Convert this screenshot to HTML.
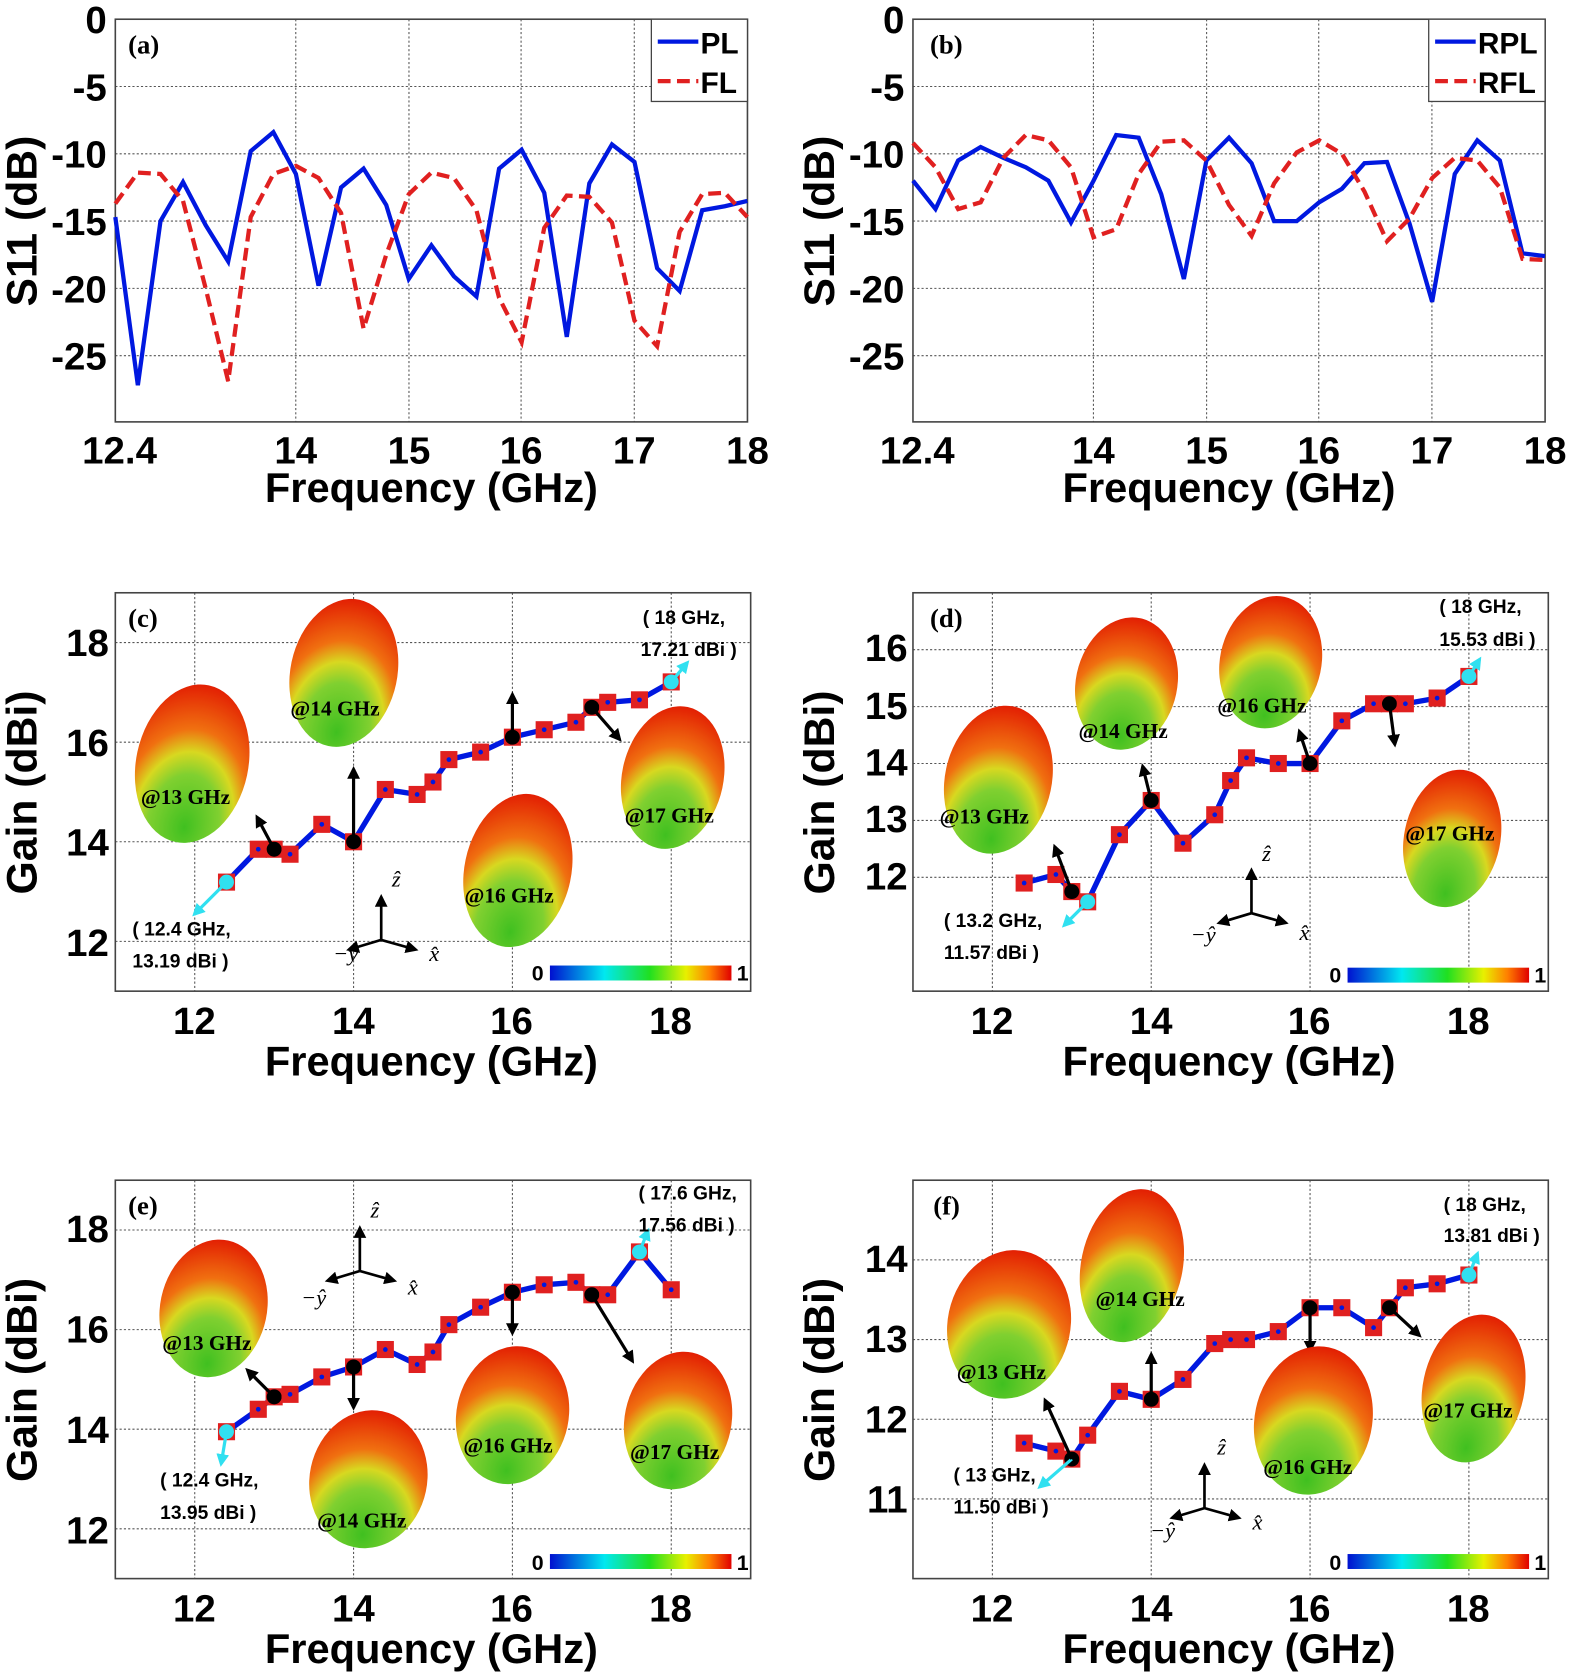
<!DOCTYPE html>
<html><head><meta charset="utf-8"><style>
html,body{margin:0;padding:0;background:#fff;}
svg{display:block;}
.t{font-family:"Liberation Sans",sans-serif;font-weight:bold;fill:#000;}
.s{font-family:"Liberation Serif",serif;font-weight:bold;fill:#000;}
</style></head><body>
<svg id="c" width="1575" height="1679" viewBox="0 0 1475 1572" preserveAspectRatio="none" xmlns="http://www.w3.org/2000/svg">
<defs>
<linearGradient id="cb" x1="0" x2="1" y1="0" y2="0">
<stop offset="0" stop-color="#0010d0"/><stop offset="0.3" stop-color="#00e8f0"/><stop offset="0.55" stop-color="#20e020"/><stop offset="0.75" stop-color="#e8f000"/><stop offset="0.88" stop-color="#ff8000"/><stop offset="1" stop-color="#e00000"/>
</linearGradient>
<radialGradient id="bl" cx="0.5" cy="0.85" r="0.9" fx="0.55" fy="0.9">
<stop offset="0" stop-color="#40c020"/><stop offset="0.35" stop-color="#80d030"/><stop offset="0.5" stop-color="#d8d820"/><stop offset="0.65" stop-color="#f07010"/><stop offset="1" stop-color="#e01000"/>
</radialGradient>
<marker id="ab" markerWidth="12" markerHeight="12" refX="9" refY="6" orient="auto" markerUnits="userSpaceOnUse"><path d="M0,0 L12,6 L0,12 z" fill="#000"/></marker>
<marker id="ac" markerWidth="12" markerHeight="12" refX="9" refY="6" orient="auto" markerUnits="userSpaceOnUse"><path d="M0,0 L12,6 L0,12 z" fill="#30e0f0"/></marker>
</defs>
<g id="g"></g>
<g class="t" font-size="36">
<text x="100" y="31" text-anchor="end">0</text><text x="100" y="94" text-anchor="end">-5</text><text x="100" y="157" text-anchor="end">-10</text><text x="100" y="220" text-anchor="end">-15</text><text x="100" y="283" text-anchor="end">-20</text><text x="100" y="346" text-anchor="end">-25</text>
<text x="112" y="434" text-anchor="middle">12.4</text><text x="277" y="434" text-anchor="middle">14</text><text x="383" y="434" text-anchor="middle">15</text><text x="488" y="434" text-anchor="middle">16</text><text x="594" y="434" text-anchor="middle">17</text><text x="700" y="434" text-anchor="middle">18</text>
<text x="404" y="470" text-anchor="middle" font-size="39">Frequency (GHz)</text>
<text transform="translate(34,207) rotate(-90)" text-anchor="middle" font-size="40">S11 (dB)</text>
<text x="656" y="50" font-size="28">PL</text><text x="656" y="87" font-size="28">FL</text>
</g>
<text class="s" x="120" y="50" font-size="25">(a)</text>
<g class="t" font-size="36">
<text x="847" y="31" text-anchor="end">0</text><text x="847" y="94" text-anchor="end">-5</text><text x="847" y="157" text-anchor="end">-10</text><text x="847" y="220" text-anchor="end">-15</text><text x="847" y="283" text-anchor="end">-20</text><text x="847" y="346" text-anchor="end">-25</text>
<text x="859" y="434" text-anchor="middle">12.4</text><text x="1024" y="434" text-anchor="middle">14</text><text x="1130" y="434" text-anchor="middle">15</text><text x="1235" y="434" text-anchor="middle">16</text><text x="1341" y="434" text-anchor="middle">17</text><text x="1447" y="434" text-anchor="middle">18</text>
<text x="1151" y="470" text-anchor="middle" font-size="39">Frequency (GHz)</text>
<text transform="translate(781,207) rotate(-90)" text-anchor="middle" font-size="40">S11 (dB)</text>
<text x="1384" y="50" font-size="28">RPL</text><text x="1384" y="87" font-size="28">RFL</text>
</g>
<text class="s" x="871" y="50" font-size="25">(b)</text>
<g class="t" font-size="36">
<text x="102" y="614" text-anchor="end">18</text><text x="102" y="708" text-anchor="end">16</text><text x="102" y="801" text-anchor="end">14</text><text x="102" y="895" text-anchor="end">12</text>
<text x="182" y="968" text-anchor="middle">12</text><text x="331" y="968" text-anchor="middle">14</text><text x="479" y="968" text-anchor="middle">16</text><text x="628" y="968" text-anchor="middle">18</text>
<text x="404" y="1007" text-anchor="middle" font-size="39">Frequency (GHz)</text>
<text transform="translate(34,742) rotate(-90)" text-anchor="middle" font-size="40">Gain (dBi)</text>
<text x="850" y="619" text-anchor="end">16</text><text x="850" y="673" text-anchor="end">15</text><text x="850" y="726" text-anchor="end">14</text><text x="850" y="779" text-anchor="end">13</text><text x="850" y="833" text-anchor="end">12</text>
<text x="929" y="968" text-anchor="middle">12</text><text x="1078" y="968" text-anchor="middle">14</text><text x="1226" y="968" text-anchor="middle">16</text><text x="1375" y="968" text-anchor="middle">18</text>
<text x="1151" y="1007" text-anchor="middle" font-size="39">Frequency (GHz)</text>
<text transform="translate(781,742) rotate(-90)" text-anchor="middle" font-size="40">Gain (dBi)</text>
<text x="102" y="1163" text-anchor="end">18</text><text x="102" y="1257" text-anchor="end">16</text><text x="102" y="1351" text-anchor="end">14</text><text x="102" y="1445" text-anchor="end">12</text>
<text x="182" y="1518" text-anchor="middle">12</text><text x="331" y="1518" text-anchor="middle">14</text><text x="479" y="1518" text-anchor="middle">16</text><text x="628" y="1518" text-anchor="middle">18</text>
<text x="404" y="1557" text-anchor="middle" font-size="39">Frequency (GHz)</text>
<text transform="translate(34,1292) rotate(-90)" text-anchor="middle" font-size="40">Gain (dBi)</text>
<text x="850" y="1191" text-anchor="end">14</text><text x="850" y="1266" text-anchor="end">13</text><text x="850" y="1341" text-anchor="end">12</text><text x="850" y="1416" text-anchor="end">11</text>
<text x="929" y="1518" text-anchor="middle">12</text><text x="1078" y="1518" text-anchor="middle">14</text><text x="1226" y="1518" text-anchor="middle">16</text><text x="1375" y="1518" text-anchor="middle">18</text>
<text x="1151" y="1557" text-anchor="middle" font-size="39">Frequency (GHz)</text>
<text transform="translate(781,1292) rotate(-90)" text-anchor="middle" font-size="40">Gain (dBi)</text>
</g>
<g class="s" font-size="25"><text x="120" y="587">(c)</text><text x="871" y="587">(d)</text><text x="120" y="1137">(e)</text><text x="874" y="1137">(f)</text></g>
<g id="blobs"></g>
<g class="s" font-size="20">
<text x="132" y="753">@13 GHz</text><text x="272" y="670">@14 GHz</text><text x="435" y="845">@16 GHz</text><text x="585" y="770">@17 GHz</text>
<text x="880" y="771">@13 GHz</text><text x="1010" y="691">@14 GHz</text><text x="1140" y="667">@16 GHz</text><text x="1316" y="787">@17 GHz</text>
<text x="152" y="1264">@13 GHz</text><text x="297" y="1430">@14 GHz</text><text x="434" y="1360">@16 GHz</text><text x="590" y="1366">@17 GHz</text>
<text x="896" y="1291">@13 GHz</text><text x="1026" y="1223">@14 GHz</text><text x="1183" y="1380">@16 GHz</text><text x="1333" y="1327">@17 GHz</text>
</g>
<g class="t" font-size="18">
<text x="124" y="876">( 12.4 GHz,</text><text x="124" y="906">13.19 dBi )</text>
<text x="602" y="584">( 18 GHz,</text><text x="600" y="614">17.21 dBi )</text>
<text x="884" y="868">( 13.2 GHz,</text><text x="884" y="898">11.57 dBi )</text>
<text x="1348" y="574">( 18 GHz,</text><text x="1348" y="605">15.53 dBi )</text>
<text x="150" y="1392">( 12.4 GHz,</text><text x="150" y="1422">13.95 dBi )</text>
<text x="598" y="1123">( 17.6 GHz,</text><text x="598" y="1153">17.56 dBi )</text>
<text x="893" y="1387">( 13 GHz,</text><text x="893" y="1417">11.50 dBi )</text>
<text x="1352" y="1134">( 18 GHz,</text><text x="1352" y="1163">13.81 dBi )</text>
</g>
<g class="t" font-size="20">
<text x="498" y="918">0</text><text x="690" y="918">1</text><text x="1245" y="920">0</text><text x="1437" y="920">1</text>
<text x="498" y="1470">0</text><text x="690" y="1470">1</text><text x="1245" y="1470">0</text><text x="1437" y="1470">1</text>
</g>
<g font-family="Liberation Serif,serif" font-style="italic" font-size="21">
<text x="367" y="830">ẑ</text><text x="312" y="900">−ŷ</text><text x="402" y="900">x̂</text>
<text x="1182" y="806">ẑ</text><text x="1115" y="882">−ŷ</text><text x="1217" y="880">x̂</text>
<text x="347" y="1140">ẑ</text><text x="282" y="1222">−ŷ</text><text x="382" y="1212">x̂</text>
<text x="1140" y="1362">ẑ</text><text x="1077" y="1440">−ŷ</text><text x="1173" y="1432">x̂</text>
</g>
</svg>
<script>
var NS="http://www.w3.org/2000/svg",G=document.getElementById("g"),B=document.getElementById("blobs");
function el(p,t,a){var e=document.createElementNS(NS,t);for(var k in a)e.setAttribute(k,a[k]);p.appendChild(e);return e;}
function box(x0,y0,x1,y1,gx,gy){
 gx.forEach(function(x){el(G,"line",{x1:x,x2:x,y1:y0,y2:y1,stroke:"#555","stroke-width":1,"stroke-dasharray":"2,2"});});
 gy.forEach(function(y){el(G,"line",{x1:x0,x2:x1,y1:y,y2:y,stroke:"#555","stroke-width":1,"stroke-dasharray":"2,2"});});
 el(G,"rect",{x:x0,y:y0,width:x1-x0,height:y1-y0,fill:"none",stroke:"#444","stroke-width":1.5});
}
function s11(x0,d,col,dash){var p=[];for(var i=0;i<d.length;i++){p.push((x0+i*0.2*105.7).toFixed(1)+","+(18-d[i]*12.6).toFixed(1));}
 var a={points:p.join(" "),fill:"none",stroke:col,"stroke-width":4};if(dash)a["stroke-dasharray"]="12,6";el(G,"polyline",a);}
box(108,18,700,395,[277,383,488,594],[81,144,207,270,333]);
box(855,18,1447,395,[1024,1130,1235,1341],[81,144,207,270,333]);
s11(108,[-14.7,-27.2,-15,-12.1,-15.3,-18,-9.8,-8.4,-11.5,-19.8,-12.5,-11.1,-13.8,-19.3,-16.8,-19.1,-20.6,-11.1,-9.7,-12.9,-23.6,-12.2,-9.3,-10.6,-18.5,-20.2,-14.2,-13.9,-13.5],"#0018e0");
s11(108,[-13.7,-11.4,-11.5,-13.5,-20,-26.9,-14.7,-11.5,-10.9,-11.8,-14.4,-23,-17.5,-13,-11.4,-11.8,-14.2,-20.7,-24,-15.5,-13.1,-13.2,-15.1,-22.4,-24.3,-15.8,-13,-12.9,-14.7],"#e02020",1);
s11(855,[-12,-14.1,-10.5,-9.5,-10.3,-11,-12,-15.1,-12,-8.6,-8.8,-13,-19.3,-10.5,-8.8,-10.7,-15,-15,-13.6,-12.6,-10.7,-10.6,-15.2,-21,-11.5,-9,-10.5,-17.4,-17.6],"#0018e0");
s11(855,[-9.2,-11,-14.1,-13.6,-10.3,-8.6,-9,-11,-16.2,-15.6,-11.5,-9.1,-9,-10.5,-13.8,-16.1,-12.2,-9.9,-9,-10,-12.8,-16.5,-14.8,-11.8,-10.3,-10.5,-12.5,-17.8,-17.9],"#e02020",1);
[[610,700],[1338,1447]].forEach(function(l){el(G,"rect",{x:l[0],y:18,width:l[1]-l[0],height:77,fill:"#fff",stroke:"#444","stroke-width":1.2});
 el(G,"line",{x1:l[0]+6,x2:l[0]+44,y1:39,y2:39,stroke:"#0018e0","stroke-width":4});
 el(G,"line",{x1:l[0]+6,x2:l[0]+44,y1:76,y2:76,stroke:"#e02020","stroke-width":4,"stroke-dasharray":"12,6"});});
function gp(x0,y0,x1,y1,ymin,ymax,yt,data,blobs,arrows,cbY,tri){
 var fx=function(f){return x0+(f-11)*(x1-x0)/8;},fy=function(v){return y1-(v-ymin)*(y1-y0)/(ymax-ymin);};
 box(x0,y0,x1,y1,[12,14,16,18].map(fx),yt.map(fy));
 blobs.forEach(function(b){el(B,"ellipse",{cx:b[0],cy:b[1],rx:b[2]/2,ry:b[3]/2,fill:"url(#bl)",transform:"rotate(12 "+b[0]+" "+b[1]+")"});});
 var p=data.map(function(d){return fx(d[0]).toFixed(1)+","+fy(d[1]).toFixed(1);}).join(" ");
 el(G,"polyline",{points:p,fill:"none",stroke:"#0018e0","stroke-width":5});
 data.forEach(function(d){var x=fx(d[0]),y=fy(d[1]);
  el(G,"rect",{x:x-8,y:y-8,width:16,height:16,fill:"#e02020"});
  if(d[2]==="k")el(G,"circle",{cx:x,cy:y,r:7,fill:"#000"});
  else if(d[2]==="c")el(G,"circle",{cx:x,cy:y,r:7,fill:"#30e0f0"});
  else el(G,"circle",{cx:x,cy:y,r:2.2,fill:"#0018e0"});});
 arrows.forEach(function(a){var x=fx(a[0]),y=fy(a[1]);el(G,"line",{x1:x,y1:y,x2:x+a[2],y2:y+a[3],stroke:a[4]?"#30e0f0":"#000","stroke-width":3,"marker-end":a[4]?"url(#ac)":"url(#ab)"});});
 el(G,"rect",{x:x0+407,y:cbY,width:170,height:14,fill:"url(#cb)"});
 var t=tri;el(G,"line",{x1:t[0],y1:t[1],x2:t[0],y2:t[1]-40,stroke:"#000","stroke-width":2.5,"marker-end":"url(#ab)"});
 el(G,"line",{x1:t[0],y1:t[1],x2:t[0]-30,y2:t[1]+9,stroke:"#000","stroke-width":2.5,"marker-end":"url(#ab)"});
 el(G,"line",{x1:t[0],y1:t[1],x2:t[0]+32,y2:t[1]+9,stroke:"#000","stroke-width":2.5,"marker-end":"url(#ab)"});
}
gp(108,555,703,928,11,19,[12,14,16,18],
 [[12.4,13.19,"c"],[12.8,13.85],[13,13.85,"k"],[13.2,13.75],[13.6,14.35],[14,14,"k"],[14.4,15.05],[14.8,14.95],[15,15.2],[15.2,15.65],[15.6,15.8],[16,16.1,"k"],[16.4,16.25],[16.8,16.4],[17,16.7,"k"],[17.2,16.8],[17.6,16.85],[18,17.21,"c"]],
 [[180,715,105,150],[322,630,100,140],[485,815,100,145],[630,728,95,135]],
 [[12.4,13.19,-30,30,1],[13,13.85,-16,-30],[14,14,0,-68],[16,16.1,0,-40],[17,16.7,26,30],[18,17.21,15,-18,1]],904,[357,880]);
gp(855,555,1450,928,10,17,[12,13,14,15,16],
 [[12.4,11.9],[12.8,12.05],[13,11.75,"k"],[13.2,11.57,"c"],[13.6,12.75],[14,13.35,"k"],[14.4,12.6],[14.8,13.1],[15,13.7],[15.2,14.1],[15.6,14.0],[16,14,"k"],[16.4,14.75],[16.8,15.05],[17,15.05,"k"],[17.2,15.05],[17.6,15.15],[18,15.53,"c"]],
 [[935,730,100,140],[1055,640,95,125],[1190,620,95,125],[1360,785,90,130]],
 [[13.2,11.57,-22,22,1],[13,11.75,-16,-42],[14,13.35,-8,-32],[16,14,-10,-30],[17,15.05,5,38],[18,15.53,10,-16,1]],906,[1172,855]);
gp(108,1105,703,1478,11,19,[12,14,16,18],
 [[12.4,13.95,"c"],[12.8,14.4],[13,14.65,"k"],[13.2,14.7],[13.6,15.05],[14,15.25,"k"],[14.4,15.6],[14.8,15.3],[15,15.55],[15.2,16.1],[15.6,16.45],[16,16.75,"k"],[16.4,16.9],[16.8,16.95],[17,16.7,"k"],[17.2,16.7],[17.6,17.56,"c"],[18,16.8]],
 [[200,1225,100,130],[345,1385,110,130],[480,1325,105,130],[635,1330,100,130]],
 [[12.4,13.95,-5,30,1],[13,14.65,-25,-25],[14,15.25,0,38],[16,16.75,0,38],[17,16.7,38,62],[17.6,17.56,8,-20,1]],1455,[337,1190]);
gp(855,1105,1450,1478,10,15,[11,12,13,14],
 [[12.4,11.7],[12.8,11.6],[13,11.5,"k"],[13.2,11.8],[13.6,12.35],[14,12.25,"k"],[14.4,12.5],[14.8,12.95],[15,13.0],[15.2,13.0],[15.6,13.1],[16,13.4,"k"],[16.4,13.4],[16.8,13.15],[17,13.4,"k"],[17.2,13.65],[17.6,13.7],[18,13.81,"c"]],
 [[945,1240,115,140],[1060,1185,95,145],[1230,1330,110,140],[1380,1300,95,140]],
 [[13,11.5,-30,26,1],[13,11.5,-25,-55],[14,12.25,0,-42],[16,13.4,0,40],[17,13.4,28,26],[18,13.81,8,-20,1]],1455,[1128,1412]);
</script>
</body></html>
